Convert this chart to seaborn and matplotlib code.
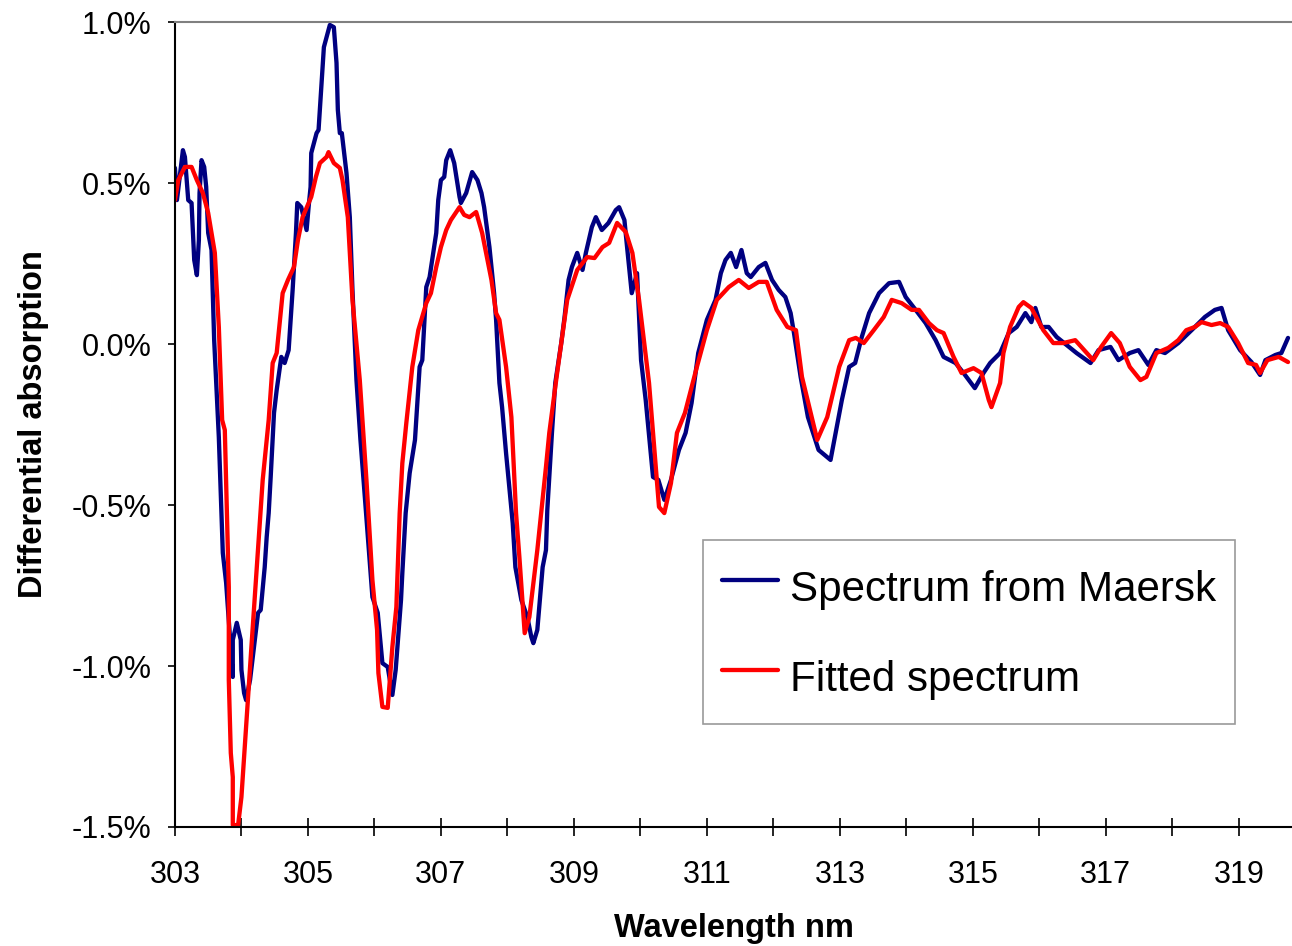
import numpy as np
import pandas as pd
import matplotlib
matplotlib.use("Agg")
import matplotlib.pyplot as plt
import seaborn as sns

sns.set_style("ticks")
plt.rcParams['font.family'] = ['Liberation Sans', 'DejaVu Sans']
plt.rcParams['text.color'] = 'black'
plt.rcParams['axes.labelcolor'] = 'black'

# Spectrum from Maersk (wavelength nm, differential absorption in %)
maersk_wl = [303.00, 303.03, 303.12, 303.15, 303.20, 303.25, 303.29, 303.33, 303.36, 303.37,
             303.40, 303.44, 303.47, 303.50, 303.55, 303.59, 303.66, 303.72, 303.77, 303.87,
             303.87, 303.93, 303.99, 304.00, 304.04, 304.07, 304.13, 304.25, 304.29, 304.35,
             304.38, 304.41, 304.44, 304.49, 304.53, 304.60, 304.65, 304.71, 304.77, 304.82,
             304.84, 304.90, 304.98, 305.01, 305.04, 305.05, 305.13, 305.16, 305.24, 305.33,
             305.39, 305.43, 305.45, 305.48, 305.51, 305.58, 305.63, 305.67, 305.73, 305.79,
             305.84, 305.97, 306.05, 306.12, 306.20, 306.27, 306.32, 306.40, 306.42, 306.47,
             306.53, 306.61, 306.68, 306.72, 306.78, 306.83, 306.93, 306.96, 307.00, 307.05,
             307.08, 307.14, 307.20, 307.28, 307.30, 307.38, 307.47, 307.55, 307.61, 307.65,
             307.73, 307.80, 307.83, 307.88, 307.92, 307.98, 308.08, 308.12, 308.21, 308.30,
             308.36, 308.39, 308.45, 308.53, 308.58, 308.60, 308.67, 308.72, 308.81, 308.86,
             308.92, 308.97, 309.05, 309.13, 309.18, 309.27, 309.33, 309.42, 309.52, 309.63,
             309.68, 309.76, 309.80, 309.87, 309.95, 310.01, 310.08, 310.19, 310.27, 310.36,
             310.46, 310.58, 310.68, 310.77, 310.87, 311.00, 311.13, 311.21, 311.28, 311.36,
             311.44, 311.52, 311.60, 311.66, 311.78, 311.88, 311.98, 312.08, 312.18, 312.26,
             312.31, 312.41, 312.52, 312.68, 312.86, 313.03, 313.14, 313.23, 313.33, 313.44,
             313.59, 313.74, 313.89, 313.99, 314.14, 314.29, 314.44, 314.56, 314.74, 314.86,
             315.03, 315.16, 315.26, 315.41, 315.54, 315.66, 315.79, 315.88, 315.94, 316.03,
             316.14, 316.26, 316.56, 316.77, 316.89, 317.07, 317.19, 317.36, 317.49, 317.64,
             317.76, 317.89, 318.09, 318.29, 318.49, 318.64, 318.74, 318.84, 319.02, 319.19,
             319.32, 319.40, 319.55, 319.64, 319.74]
maersk_val = [0.547, 0.447, 0.602, 0.581, 0.447, 0.438, 0.261, 0.214, 0.323, 0.469,
              0.571, 0.550, 0.488, 0.345, 0.292, 0.012, -0.289, -0.649, -0.742, -1.034,
              -0.919, -0.866, -0.919, -1.012, -1.084, -1.106, -1.043, -0.835, -0.826, -0.693,
              -0.599, -0.525, -0.413, -0.214, -0.143, -0.040, -0.059, -0.019, 0.168, 0.345,
              0.438, 0.425, 0.354, 0.425, 0.488, 0.593, 0.655, 0.665, 0.922, 0.991,
              0.984, 0.873, 0.727, 0.655, 0.655, 0.531, 0.394, 0.168, -0.112, -0.298,
              -0.432, -0.786, -0.835, -0.991, -1.003, -1.090, -1.012, -0.795, -0.711, -0.525,
              -0.401, -0.298, -0.071, -0.050, 0.177, 0.208, 0.345, 0.447, 0.509, 0.519,
              0.571, 0.602, 0.562, 0.457, 0.438, 0.469, 0.534, 0.509, 0.469, 0.425,
              0.301, 0.158, 0.075, -0.121, -0.196, -0.339, -0.556, -0.693, -0.795, -0.848,
              -0.910, -0.929, -0.888, -0.693, -0.640, -0.516, -0.276, -0.121, 0.003, 0.084,
              0.199, 0.239, 0.283, 0.230, 0.283, 0.363, 0.394, 0.354, 0.376, 0.416,
              0.425, 0.385, 0.301, 0.158, 0.220, -0.050, -0.174, -0.413, -0.422, -0.484,
              -0.422, -0.329, -0.276, -0.183, -0.028, 0.075, 0.137, 0.220, 0.261, 0.283,
              0.239, 0.292, 0.220, 0.208, 0.239, 0.252, 0.199, 0.168, 0.146, 0.096,
              0.034, -0.102, -0.227, -0.329, -0.360, -0.174, -0.071, -0.059, 0.022, 0.096,
              0.158, 0.189, 0.193, 0.146, 0.106, 0.065, 0.012, -0.040, -0.059, -0.090,
              -0.137, -0.090, -0.059, -0.028, 0.034, 0.053, 0.096, 0.068, 0.112, 0.053,
              0.053, 0.022, -0.028, -0.059, -0.019, -0.009, -0.050, -0.028, -0.019, -0.065,
              -0.019, -0.028, 0.003, 0.043, 0.084, 0.106, 0.112, 0.043, -0.019, -0.056,
              -0.096, -0.050, -0.034, -0.028, 0.019]

# Fitted spectrum
fit_wl = [303.00, 303.05, 303.15, 303.25, 303.33, 303.42, 303.50, 303.55, 303.60, 303.66,
          303.71, 303.75, 303.81, 303.81, 303.84, 303.87, 303.87, 303.95, 304.00, 304.15,
          304.32, 304.41, 304.47, 304.53, 304.62, 304.70, 304.79, 304.85, 304.92, 305.05,
          305.12, 305.18, 305.28, 305.31, 305.39, 305.48, 305.52, 305.60, 305.67, 305.78,
          305.88, 305.97, 306.04, 306.06, 306.12, 306.20, 306.27, 306.33, 306.38, 306.42,
          306.48, 306.57, 306.66, 306.78, 306.85, 306.93, 307.00, 307.08, 307.15, 307.28,
          307.35, 307.43, 307.53, 307.62, 307.76, 307.83, 307.88, 307.98, 308.06, 308.13,
          308.18, 308.26, 308.33, 308.45, 308.58, 308.63, 308.74, 308.81, 308.90, 309.05,
          309.20, 309.31, 309.43, 309.53, 309.65, 309.78, 309.88, 309.98, 310.13, 310.28,
          310.36, 310.46, 310.55, 310.67, 310.77, 310.85, 311.00, 311.15, 311.33, 311.48,
          311.63, 311.78, 311.90, 312.05, 312.21, 312.34, 312.43, 312.66, 312.81, 312.99,
          313.14, 313.24, 313.36, 313.51, 313.66, 313.78, 313.93, 314.08, 314.19, 314.34,
          314.46, 314.56, 314.71, 314.83, 315.01, 315.13, 315.24, 315.28, 315.41, 315.46,
          315.56, 315.69, 315.76, 315.88, 316.06, 316.21, 316.36, 316.54, 316.81, 316.93,
          317.08, 317.21, 317.36, 317.52, 317.61, 317.76, 317.94, 318.09, 318.21, 318.34,
          318.44, 318.59, 318.72, 318.84, 318.99, 319.14, 319.26, 319.32, 319.43, 319.60,
          319.74]
fit_val = [0.447, 0.509, 0.550, 0.550, 0.509, 0.469, 0.407, 0.345, 0.283, 0.053,
           -0.236, -0.267, -0.755, -1.043, -1.270, -1.345, -1.494, -1.494, -1.407, -0.941,
           -0.422, -0.236, -0.059, -0.028, 0.158, 0.199, 0.239, 0.323, 0.394, 0.457,
           0.519, 0.562, 0.581, 0.596, 0.562, 0.547, 0.509, 0.394, 0.137, -0.112,
           -0.422, -0.733, -0.888, -1.022, -1.127, -1.130, -0.941, -0.817, -0.525, -0.370,
           -0.245, -0.071, 0.043, 0.127, 0.158, 0.239, 0.301, 0.354, 0.385, 0.425,
           0.401, 0.394, 0.410, 0.345, 0.199, 0.096, 0.075, -0.071, -0.227, -0.525,
           -0.661, -0.898, -0.848, -0.640, -0.382, -0.276, -0.102, 0.003, 0.137, 0.230,
           0.270, 0.267, 0.301, 0.314, 0.376, 0.348, 0.283, 0.137, -0.121, -0.506,
           -0.525, -0.432, -0.276, -0.214, -0.134, -0.071, 0.043, 0.137, 0.177, 0.199,
           0.174, 0.193, 0.193, 0.106, 0.053, 0.043, -0.102, -0.298, -0.227, -0.071,
           0.012, 0.019, 0.003, 0.043, 0.084, 0.137, 0.127, 0.106, 0.106, 0.065,
           0.043, 0.034, -0.040, -0.090, -0.075, -0.090, -0.174, -0.196, -0.121, -0.028,
           0.053, 0.115, 0.130, 0.112, 0.043, 0.003, 0.003, 0.012, -0.050, -0.009,
           0.034, 0.003, -0.071, -0.112, -0.102, -0.028, -0.012, 0.012, 0.043, 0.053,
           0.068, 0.059, 0.065, 0.053, 0.003, -0.059, -0.065, -0.090, -0.050, -0.040,
           -0.056]

series_names = ["Spectrum from Maersk", "Fitted spectrum"]
colors = ["#000080", "#FF0000"]

df = pd.concat([
    pd.DataFrame({"Wavelength": maersk_wl, "Absorption": maersk_val, "Series": series_names[0]}),
    pd.DataFrame({"Wavelength": fit_wl, "Absorption": fit_val, "Series": series_names[1]}),
], ignore_index=True)

fig = plt.figure(figsize=(12.92, 9.46), dpi=100)
ax = fig.add_axes([0.1354, 0.1258, 0.8646, 0.8509])

sns.lineplot(data=df, x="Wavelength", y="Absorption", hue="Series", palette=colors,
             estimator=None, sort=False, linewidth=3.1, ax=ax)

ax.set_xlim(303, 319.8)
ax.set_ylim(-1.5, 1.0)
ax.set_xticks(np.arange(303, 320, 2))
ax.set_xticks(np.arange(304, 320, 2), minor=True)
ax.set_yticks(np.arange(-1.5, 1.01, 0.5))
ax.set_yticklabels([f"{v:.1f}%" for v in np.arange(-1.5, 1.01, 0.5)])

ax.tick_params(axis='x', which='both', direction='inout', length=13, width=1.2,
               labelsize=22, pad=17, colors='black')
ax.tick_params(axis='y', direction='out', length=5, width=1.2, labelsize=22, pad=12,
               colors='black')

for side in ['left', 'bottom']:
    ax.spines[side].set_color('black')
    ax.spines[side].set_linewidth(1.5)
ax.spines['top'].set_color('#808080')
ax.spines['top'].set_linewidth(1.5)
ax.spines['right'].set_visible(False)

ax.set_xlabel('Wavelength nm', fontsize=23.5, fontweight='bold', labelpad=17)
ax.set_ylabel('Differential absorption', fontsize=23.5, fontweight='bold', labelpad=16)

leg = ax.legend(loc='upper left', bbox_to_anchor=(0.4727, 0.3565), borderaxespad=0,
                fontsize=30.3, handlelength=1.34, handleheight=1.7, handletextpad=0.28,
                labelspacing=0.78, borderpad=0.45, frameon=True, fancybox=False)
leg.get_frame().set_edgecolor('#808080')
leg.get_frame().set_linewidth(1.2)
for line in leg.get_lines():
    line.set_linewidth(3.1)
for t in leg.get_texts():
    t.set_color('black')

fig.savefig('out.png', dpi=100)
